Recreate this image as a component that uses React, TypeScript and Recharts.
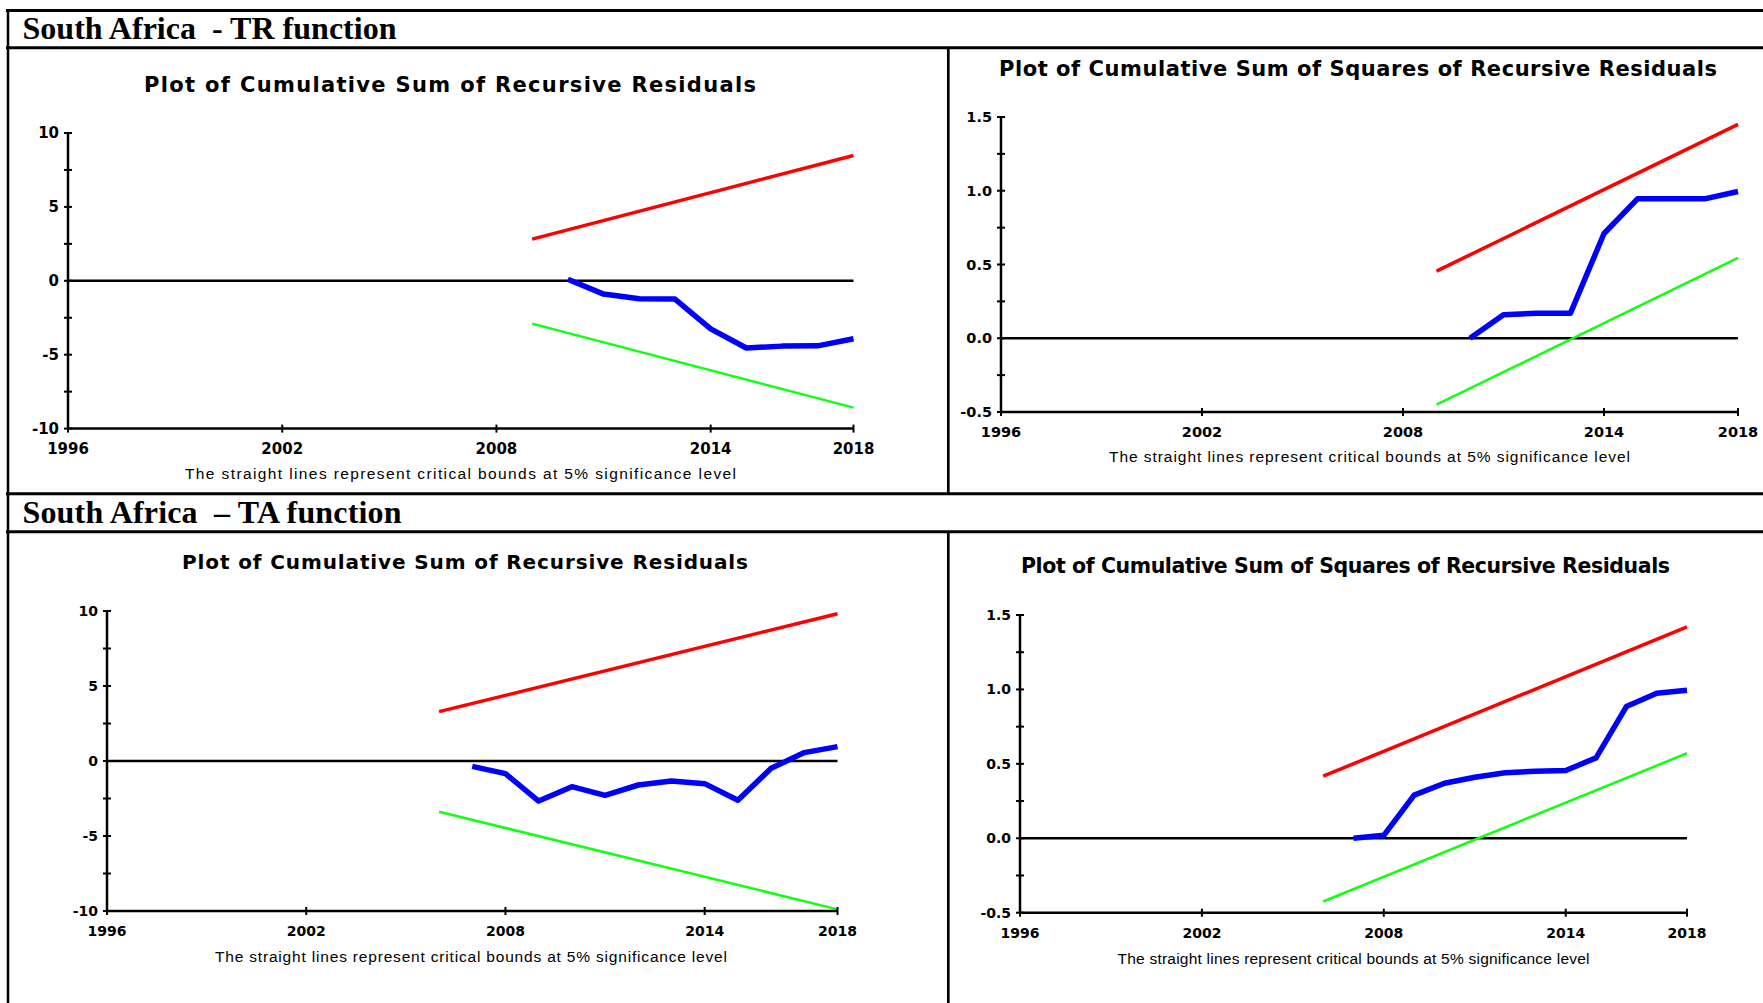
import React from "react";
import { LineChart, Line, XAxis, YAxis, ReferenceLine } from "recharts";

const xTicks = [1996, 2002, 2008, 2014, 2018];
const cusumTicks = [-10, -7.5, -5, -2.5, 0, 2.5, 5, 7.5, 10];
const sqTicks = [-0.5, -0.25, 0, 0.25, 0.5, 0.75, 1, 1.25, 1.5];

// South Africa - TR function
const trCusumYears = [2010, 2011, 2012, 2013, 2014, 2015, 2016, 2017, 2018];
const trCusum = [0.1, -0.9, -1.22, -1.24, -3.25, -4.55, -4.42, -4.4, -3.92];
const trCusumBoundYears = [2009, 2018];
const trCusumUpper = [2.82, 8.48];
const trCusumLower = [-2.9, -8.58];

const trSqYears = [2010, 2011, 2012, 2013, 2014, 2015, 2016, 2017, 2018];
const trSq = [0.0, 0.16, 0.17, 0.17, 0.71, 0.945, 0.945, 0.945, 0.995];
const trSqBoundYears = [2009, 2018];
const trSqUpper = [0.455, 1.45];
const trSqLower = [-0.45, 0.545];

// South Africa - TA function
const taCusumYears = [2007, 2008, 2009, 2010, 2011, 2012, 2013, 2014, 2015, 2016, 2017, 2018];
const taCusum = [-0.36, -0.84, -2.67, -1.71, -2.29, -1.6, -1.33, -1.51, -2.62, -0.49, 0.56, 0.96];
const taCusumBoundYears = [2006, 2018];
const taCusumUpper = [3.29, 9.82];
const taCusumLower = [-3.38, -9.89];

const taSqYears = [2007, 2008, 2009, 2010, 2011, 2012, 2013, 2014, 2015, 2016, 2017, 2018];
const taSq = [0.0, 0.02, 0.29, 0.37, 0.41, 0.44, 0.45, 0.455, 0.54, 0.885, 0.975, 0.995];
const taSqBoundYears = [2006, 2018];
const taSqUpper = [0.417, 1.42];
const taSqLower = [-0.425, 0.571];

const pairs = (xs: number[], ys: number[]) => xs.map((year, i) => ({ year, v: ys[i] }));

const RED = "#ff0000";
const GREEN = "#11ff11";
const BLUE = "#0000ff";
const tickFont = "'DejaVu Sans', sans-serif";

type Series = { data: { year: number; v: number }[]; color: string; width: number };

function Panel(props: {
  box: [number, number, number, number];
  domain: [number, number];
  yTicks: number[];
  sq: boolean;
  fontSize: number;
  series: Series[];
}) {
  const [l, t, r, b] = props.box;
  const yw = 50;
  const xh = 32;
  const m = { top: 20, right: 40, bottom: 15, left: 20 };
  const w = r - l + m.left + yw + m.right;
  const h = b - t + m.top + xh + m.bottom;
  const fs = props.fontSize;

  const yTick = (p: any) => {
    const val = p.payload.value;
    const show = props.sq ? Math.abs((val * 2) % 1) < 1e-6 : val % 5 === 0;
    return (
      <g>
        <line x1={p.x - 4} x2={p.x + 4} y1={p.y} y2={p.y} stroke="#000" strokeWidth={2} />
        {show && (
          <text x={p.x - 9} y={p.y} dy="0.36em" textAnchor="end" fontFamily={tickFont} fontWeight="bold" fontSize={fs} fill="#000">
            {props.sq ? val.toFixed(1) : String(val)}
          </text>
        )}
      </g>
    );
  };
  const xTick = (p: any) => (
    <g>
      <line x1={p.x} x2={p.x} y1={p.y - 4} y2={p.y + 4} stroke="#000" strokeWidth={2} />
      <text x={p.x} y={p.y + 25} textAnchor="middle" fontFamily={tickFont} fontWeight="bold" fontSize={fs} fill="#000">
        {p.payload.value}
      </text>
    </g>
  );

  return (
    <div style={{ position: "absolute", left: l - m.left - yw, top: t - m.top }}>
      <LineChart width={w} height={h} margin={m}>
        <XAxis
          type="number"
          dataKey="year"
          domain={[1996, 2018]}
          ticks={xTicks}
          interval={0}
          height={xh}
          tickSize={0}
          tickMargin={0}
          tickLine={false}
          axisLine={{ stroke: "#000", strokeWidth: 2.5 }}
          tick={xTick}
        />
        <YAxis
          type="number"
          domain={props.domain}
          ticks={props.yTicks}
          interval={0}
          width={yw}
          tickSize={0}
          tickMargin={0}
          tickLine={false}
          axisLine={{ stroke: "#000", strokeWidth: 2.5 }}
          tick={yTick}
        />
        <ReferenceLine y={0} stroke="#000" strokeWidth={2.5} />
        {props.series.map((s, i) => (
          <Line
            key={i}
            data={s.data}
            dataKey="v"
            type="linear"
            stroke={s.color}
            strokeWidth={s.width}
            strokeLinejoin="round"
            dot={false}
            activeDot={false}
            isAnimationActive={false}
          />
        ))}
      </LineChart>
    </div>
  );
}

const titleFont = "'DejaVu Sans', sans-serif";
const noteFont = "'Liberation Sans', Arial, sans-serif";
const headFont = "'Liberation Serif', 'Times New Roman', serif";
const NOTE = "The straight lines represent critical bounds at 5% significance level";
const T1 = "Plot of Cumulative Sum of Recursive Residuals";
const T2 = "Plot of Cumulative Sum of Squares of Recursive Residuals";

function Frame() {
  const hl = (y: number) => <line x1={6} x2={1763} y1={y} y2={y} stroke="#000" strokeWidth={3} />;
  const title = (x: number, y: number, len: number, txt: string, fs: number) => (
    <text x={x} y={y} textAnchor="middle" textLength={len} lengthAdjust="spacing" fontFamily={titleFont} fontWeight="bold" fontSize={fs} fill="#000">
      {txt}
    </text>
  );
  const note = (x: number, y: number, len: number) => (
    <text x={x} y={y} textAnchor="middle" textLength={len} lengthAdjust="spacing" fontFamily={noteFont} fontSize={15.5} fill="#000">
      {NOTE}
    </text>
  );
  return (
    <svg width={1763} height={1003} style={{ position: "absolute", left: 0, top: 0 }}>
      <rect x={0} y={0} width={1763} height={1003} fill="#fff" />
      {hl(10.5)}
      {hl(47.7)}
      {hl(493.7)}
      {hl(531.7)}
      <line x1={8} x2={8} y1={9} y2={1003} stroke="#000" strokeWidth={2.5} />
      <line x1={948.3} x2={948.3} y1={47.7} y2={493.7} stroke="#000" strokeWidth={2.7} />
      <line x1={948.3} x2={948.3} y1={531.7} y2={1003} stroke="#000" strokeWidth={2.7} />
      <text x={22.5} y={39.3} textLength={374} lengthAdjust="spacing" fontFamily={headFont} fontWeight="bold" fontSize={32} style={{ whiteSpace: "pre" }}>
        {"South Africa  - TR function"}
      </text>
      <text x={22.5} y={523.3} textLength={379} lengthAdjust="spacing" fontFamily={headFont} fontWeight="bold" fontSize={32} style={{ whiteSpace: "pre" }}>
        {"South Africa  \u2013 TA function"}
      </text>
      {title(450, 91.7, 612, T1, 21)}
      {title(1358, 76, 718, T2, 21)}
      {title(465, 569, 566, T1, 20)}
      {title(1345.5, 573.3, 649, T2, 20.5)}
      {note(460.5, 479, 551)}
      {note(1369.5, 461.7, 521)}
      {note(471, 961.7, 512)}
      {note(1353.5, 964, 472)}
    </svg>
  );
}

export default function App() {
  return (
    <div style={{ position: "absolute", left: 0, top: 0, width: 1763, height: 1003, background: "#fff", overflow: "hidden" }}>
      <Frame />
      <Panel
        box={[67.5, 132.7, 853, 428.3]}
        domain={[-10, 10]}
        yTicks={cusumTicks}
        sq={false}
        fontSize={15}
        series={[
          { data: pairs(trCusumBoundYears, trCusumUpper), color: RED, width: 3.5 },
          { data: pairs(trCusumBoundYears, trCusumLower), color: GREEN, width: 2.5 },
          { data: pairs(trCusumYears, trCusum), color: BLUE, width: 5.5 },
        ]}
      />
      <Panel
        box={[1001, 116.7, 1738, 411.7]}
        domain={[-0.5, 1.5]}
        yTicks={sqTicks}
        sq={true}
        fontSize={14.5}
        series={[
          { data: pairs(trSqBoundYears, trSqUpper), color: RED, width: 3.5 },
          { data: pairs(trSqBoundYears, trSqLower), color: GREEN, width: 2.5 },
          { data: pairs(trSqYears, trSq), color: BLUE, width: 5.5 },
        ]}
      />
      <Panel
        box={[107, 610.7, 837.5, 910.7]}
        domain={[-10, 10]}
        yTicks={cusumTicks}
        sq={false}
        fontSize={14}
        series={[
          { data: pairs(taCusumBoundYears, taCusumUpper), color: RED, width: 3.5 },
          { data: pairs(taCusumBoundYears, taCusumLower), color: GREEN, width: 2.5 },
          { data: pairs(taCusumYears, taCusum), color: BLUE, width: 5.5 },
        ]}
      />
      <Panel
        box={[1020, 615, 1687, 912.7]}
        domain={[-0.5, 1.5]}
        yTicks={sqTicks}
        sq={true}
        fontSize={14}
        series={[
          { data: pairs(taSqBoundYears, taSqUpper), color: RED, width: 3.5 },
          { data: pairs(taSqBoundYears, taSqLower), color: GREEN, width: 2.5 },
          { data: pairs(taSqYears, taSq), color: BLUE, width: 5.5 },
        ]}
      />
    </div>
  );
}
